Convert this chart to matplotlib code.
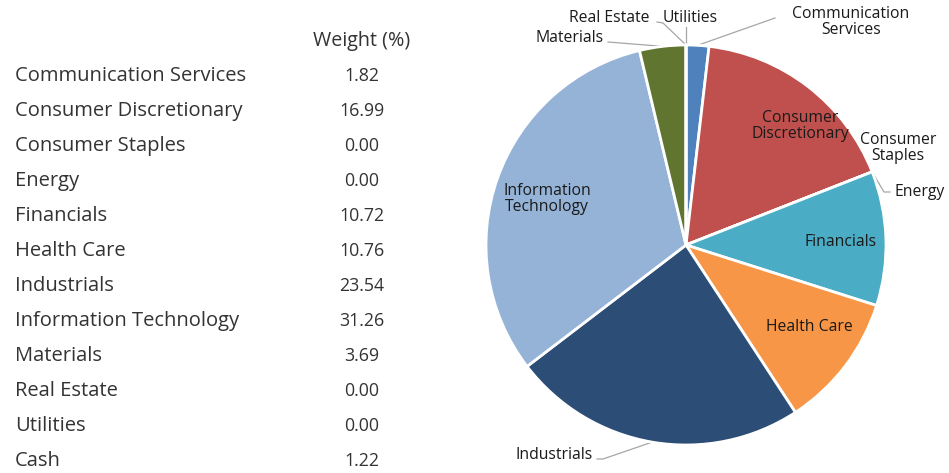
import numpy as np
import matplotlib.pyplot as plt

# sector weights (%) - cash is listed in the table but not drawn in the pie
sectors = ['Communication Services', 'Consumer Discretionary', 'Consumer Staples',
           'Energy', 'Financials', 'Health Care', 'Industrials',
           'Information Technology', 'Materials', 'Real Estate', 'Utilities', 'Cash']
weights = [1.82, 16.99, 0.00, 0.00, 10.72, 10.76, 23.54, 31.26, 3.69, 0.00, 0.00, 1.22]
colors = ['#4F81BD', '#C0504D', '#9BBB59', '#8064A2', '#4BACC6', '#F79646',
          '#2C4D75', '#95B3D7', '#5F7530', '#772C2A', '#276A7C']

# label text for the pie (with line breaks as in the original)
pie_labels = ['Communication\nServices', 'Consumer\nDiscretionary', 'Consumer\nStaples',
              'Energy', 'Financials', 'Health Care', 'Industrials',
              'Information\nTechnology', 'Materials', 'Real Estate', 'Utilities']

plt.rcParams['font.family'] = ['Open Sans', 'DejaVu Sans']

W, H = 949, 473
fig = plt.figure(figsize=(W / 100, H / 100), dpi=100)
ax = fig.add_axes([0, 0, 1, 1])

# --- table on the left ---
txt_col = '#333333'
ax.text(362, H - 41, 'Weight (%)', ha='center', va='center', fontsize=14.2, color=txt_col)
row0, dy = 76, 35.0
for i, (s, w) in enumerate(zip(sectors, weights)):
    y = H - (row0 + i * dy)
    ax.text(15, y, s, ha='left', va='center', fontsize=14.5, color=txt_col)
    ax.text(362, y, '%.2f' % w, ha='center', va='center', fontsize=12.8, color=txt_col)

# --- pie on the right ---
cx, cy, R = 686, H - 245, 200
pie_vals = weights[:11]
wedges, _ = ax.pie(pie_vals, colors=colors, startangle=90, counterclock=False,
                   center=(cx, cy), radius=R,
                   wedgeprops=dict(edgecolor='white', linewidth=2))

ax.set_xlim(0, W)
ax.set_ylim(0, H)
ax.set_aspect('equal')
ax.axis('off')

lab_fs = 11.3
# inside labels (x, y in pixels from top-left)
inside = {1: (800, 126), 4: (841, 242), 5: (809, 327), 7: (547, 199)}
for i, (px, py) in inside.items():
    ax.text(px, H - py, pie_labels[i], ha='center', va='center',
            fontsize=lab_fs, color='#1a1a1a', linespacing=1.05)

# outside labels: text position, leader line path (elbow points)
outside = {
    0: ((851, 22), [(775, 18)]),
    2: ((898, 148), []),
    3: ((920, 192), [(884, 192), (890, 192)]),
    6: ((554, 455), [(603, 459), (597, 459)]),
    8: ((570, 38), [(608, 42)]),
    9: ((609, 18), [(663, 23), (657, 22)]),
    10: ((690, 18), [(686, 27)]),
}
total = sum(pie_vals)
cum = np.cumsum([0] + pie_vals)
for i, ((px, py), path) in outside.items():
    mid = (cum[i] + cum[i + 1]) / 2 / total * 360
    ang = np.deg2rad(90 - mid)
    ax_ = cx + R * np.cos(ang)
    ay_ = cy + R * np.sin(ang)
    xs = [ax_] + [p[0] for p in path]
    ys = [ay_] + [H - p[1] for p in path]
    if path:
        ax.plot(xs, ys, color='#a6a6a6', lw=0.9, zorder=0.5)
    ax.text(px, H - py, pie_labels[i], ha='center', va='center', fontsize=lab_fs,
            color='#1a1a1a', linespacing=1.05)

fig.savefig('out.png', dpi=100)
